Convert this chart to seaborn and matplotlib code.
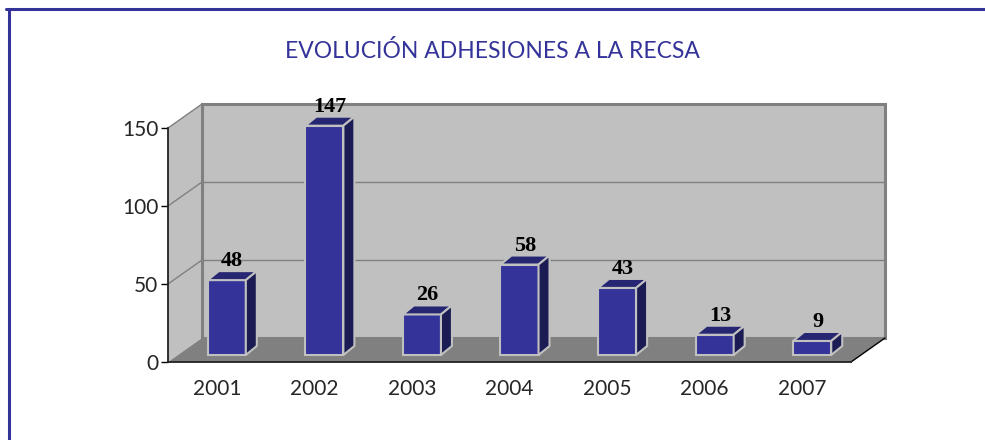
import matplotlib.pyplot as plt
import matplotlib.transforms as mtransforms
from matplotlib.patches import Polygon
from matplotlib.lines import Line2D
from matplotlib.ticker import FixedLocator
import seaborn as sns
import pandas as pd

# --- datos ---
anios = ['2001', '2002', '2003', '2004', '2005', '2006', '2007']
adhesiones = [48, 147, 26, 58, 43, 13, 9]
ticks_y = [0, 50, 100, 150]
titulo = 'EVOLUCIÓN ADHESIONES A LA RECSA'

# --- colores ---
AZUL = '#333399'
AZUL_TOP = '#262673'
AZUL_LADO = '#1c1c55'
GRIS_CLARO = '#c0c0c0'
GRIS = '#808080'

sns.set_style('white')
plt.rcParams['font.family'] = ['Lato', 'DejaVu Sans']

df = pd.DataFrame({'anio': anios, 'adhesiones': adhesiones})

W, H = 985, 440
fig = plt.figure(figsize=(W / 100, H / 100), dpi=100)
ax = fig.add_axes([168 / W, (H - 362) / H, 683 / W, 234 / H])
ax.set_xlim(-0.5, len(anios) - 0.5)
ax.set_ylim(0, 150)
ax.patch.set_visible(False)

# pixeles -> unidades de datos (para la falsa perspectiva 3D)
px_x = (len(anios)) / ax.bbox.width
px_y = 150 / ax.bbox.height
fx, fy = 34 * px_x, 24 * px_y      # fondo del grafico
dx, dy = 11 * px_x, 9 * px_y       # profundidad de cada barra
x0, x1 = -0.5, len(anios) - 0.5

# pared lateral, pared del fondo y suelo
ax.add_patch(Polygon([(x0, 0), (x0 + fx, fy), (x0 + fx, 150 + fy), (x0, 150)],
                     facecolor=GRIS_CLARO, edgecolor='none', clip_on=False, zorder=0))
ax.add_patch(Polygon([(x0 + fx, fy), (x1 + fx, fy), (x1 + fx, 150 + fy), (x0 + fx, 150 + fy)],
                     facecolor=GRIS_CLARO, edgecolor=GRIS, lw=2.2, clip_on=False, zorder=0.5))
for v in ticks_y[1:]:
    ax.plot([x0, x0 + fx], [v, v + fy], color=GRIS, lw=1, clip_on=False, zorder=0.6)
    if v < 150:
        ax.plot([x0 + fx, x1 + fx], [v + fy, v + fy], color=GRIS, lw=1, clip_on=False, zorder=0.6)
ax.add_patch(Polygon([(x0, 0), (x1, 0), (x1 + fx, fy), (x0 + fx, fy)],
                     facecolor=GRIS, edgecolor='none', clip_on=False, zorder=1))
ax.plot([x1, x1 + fx], [0, fy], color='black', lw=1, clip_on=False, zorder=1.1)

# barras
sns.barplot(data=df, x='anio', y='adhesiones', color=AZUL, saturation=1,
            width=0.39, edgecolor=GRIS_CLARO, linewidth=1.5, ax=ax, zorder=3)

desplazamiento = ax.transData + mtransforms.ScaledTranslation(0.10, 0.07, fig.dpi_scale_trans)
for barra, valor in zip(ax.containers[0], adhesiones):
    barra.set_transform(desplazamiento)
    barra.set_clip_on(False)
    bx0 = barra.get_x()
    bx1 = bx0 + barra.get_width()
    h = barra.get_height()
    ax.add_patch(Polygon([(bx0, h), (bx1, h), (bx1 + dx, h + dy), (bx0 + dx, h + dy)],
                         facecolor=AZUL_TOP, edgecolor=GRIS_CLARO, lw=1.5,
                         transform=desplazamiento, clip_on=False, zorder=3))
    ax.add_patch(Polygon([(bx1, 0), (bx1 + dx, dy), (bx1 + dx, h + dy), (bx1, h)],
                         facecolor=AZUL_LADO, edgecolor=GRIS_CLARO, lw=1.5,
                         transform=desplazamiento, clip_on=False, zorder=3))
    ax.text((bx0 + bx1 + dx) / 2, h + dy + 5 * px_y, str(valor), transform=desplazamiento,
            ha='center', va='baseline', fontsize=16, fontweight='bold',
            family=['Liberation Serif', 'DejaVu Serif'], color='black', zorder=5)

# ejes
for lado in ['top', 'right']:
    ax.spines[lado].set_visible(False)
for lado in ['left', 'bottom']:
    ax.spines[lado].set_color('#222222')
    ax.spines[lado].set_linewidth(1.3)
    ax.spines[lado].set_zorder(2)

ax.set_yticks(ticks_y)
ax.set_yticklabels([str(t) for t in ticks_y])
ax.xaxis.set_minor_locator(FixedLocator([i - 0.5 for i in range(len(anios) + 1)]))
ax.tick_params(axis='x', which='major', length=0, pad=12, labelsize=15)
ax.tick_params(axis='x', which='minor', length=5, width=1, color='black', direction='out')
ax.tick_params(axis='y', length=5, width=1, color='black', direction='out', left=True,
               pad=2, labelsize=15)
ax.set_xlabel('')
ax.set_ylabel('')
ax.grid(False)

# titulo y marco
fig.text(0.5, 1 - 51 / H, titulo, ha='center', va='center', color=AZUL, fontsize=16.5)
fig.add_artist(Line2D([6 / W, 1], [1 - 9.5 / H, 1 - 9.5 / H], color=AZUL, lw=2.2,
                      transform=fig.transFigure))
fig.add_artist(Line2D([8.5 / W, 8.5 / W], [0, 1 - 9.5 / H], color=AZUL, lw=2.2,
                      transform=fig.transFigure))

fig.savefig('out.png', dpi=100)
